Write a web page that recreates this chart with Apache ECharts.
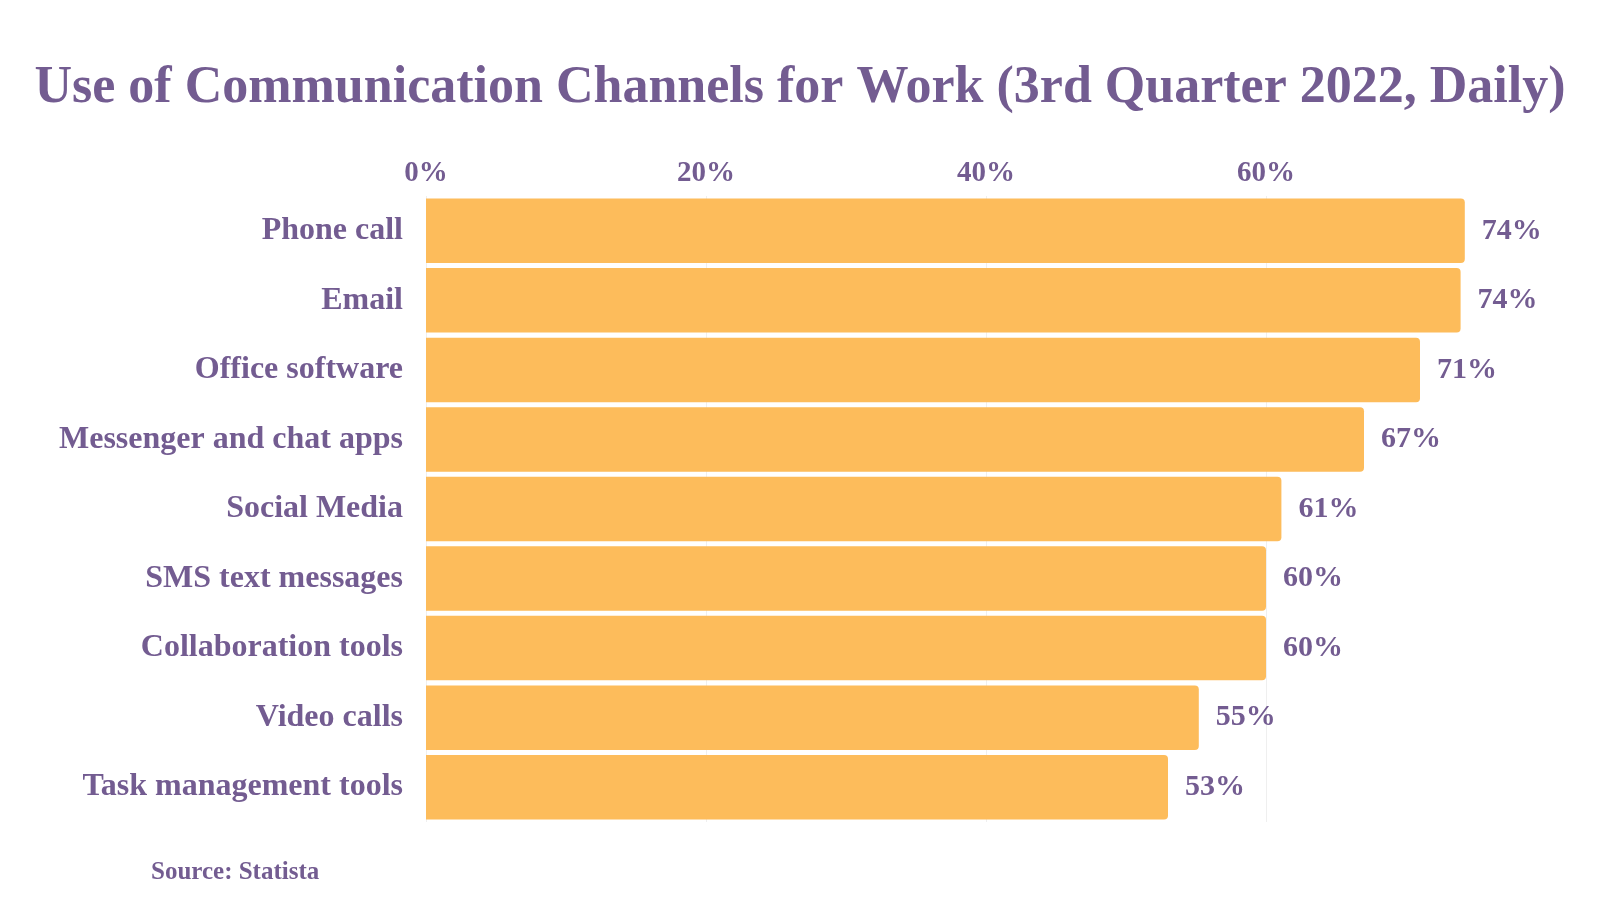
<!DOCTYPE html>
<html>
<head>
<meta charset="utf-8">
<title>Use of Communication Channels for Work</title>
<script src="https://cdn.jsdelivr.net/npm/echarts@6/dist/echarts.min.js"></script>
<style>
    html, body { margin: 0; padding: 0; background: #fff; }
    #chart { width: 1600px; height: 900px; }
</style>
</head>
<body>
<div id="chart"></div>
<script>
    // data
    var channels = ['Phone call', 'Email', 'Office software', 'Messenger and chat apps',
        'Social Media', 'SMS text messages', 'Collaboration tools', 'Video calls', 'Task management tools'];
    var shares = [74.2, 73.9, 71, 67, 61.1, 60, 60, 55.2, 53];
    var tickValues = [0, 20, 40, 60];

    var purple = '#735c91';
    var font = '"Liberation Serif", "DejaVu Serif", serif';

    var chart = echarts.init(document.getElementById('chart'));
    var option = {
        backgroundColor: '#fff',
        title: {
            text: 'Use of Communication Channels for Work (3rd Quarter 2022, Daily)',
            left: 'center',
            top: 58,
            textStyle: { color: purple, fontFamily: font, fontSize: 52, fontWeight: 'bold' }
        },
        graphic: [{
            type: 'text',
            left: 151,
            top: 860,
            style: { text: 'Source: Statista', fill: purple, font: 'bold 25px ' + font }
        }],
        grid: { left: 426, right: 54, top: 196, bottom: 78 },
        xAxis: {
            type: 'value',
            position: 'top',
            min: 0,
            max: 80,
            interval: 20,
            axisLine: { show: false },
            axisTick: { show: false },
            splitLine: { lineStyle: { color: ['#efefef', '#efefef', '#efefef', '#efefef', 'rgba(0,0,0,0)'] } },
            axisLabel: {
                margin: 8,
                color: purple,
                fontFamily: font,
                fontSize: 29,
                fontWeight: 'bold',
                formatter: function (v) {
                    return tickValues.indexOf(v) >= 0 ? v + '%' : '';
                }
            }
        },
        yAxis: {
            type: 'category',
            inverse: true,
            data: channels,
            axisLine: { show: false },
            axisTick: { show: false },
            axisLabel: {
                margin: 23,
                padding: [10, 0, 0, 0],
                color: purple,
                fontFamily: font,
                fontSize: 32,
                fontWeight: 'bold'
            }
        },
        series: [{
            type: 'bar',
            data: shares,
            barCategoryGap: '7.3%',
            itemStyle: { color: '#fdbc5b', borderRadius: [0, 4, 4, 0] },
            label: {
                show: true,
                position: 'right',
                distance: 17,
                color: purple,
                fontFamily: font,
                fontSize: 30,
                fontWeight: 'bold',
                formatter: function (p) { return Math.round(p.value) + '%'; }
            }
        }]
    };
    chart.setOption(option);
</script>
</body>
</html>
